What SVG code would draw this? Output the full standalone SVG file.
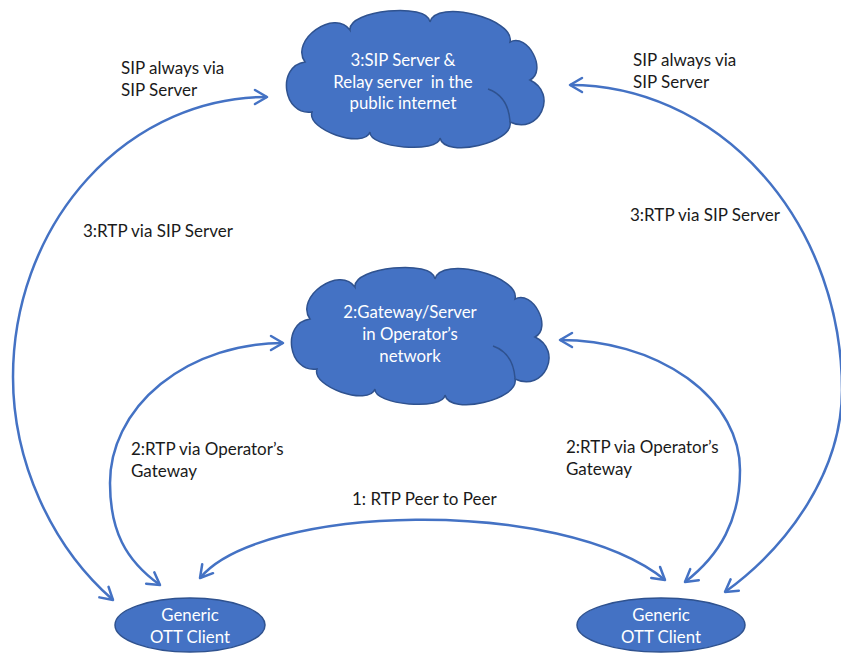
<svg xmlns="http://www.w3.org/2000/svg" xmlns:xlink="http://www.w3.org/1999/xlink" width="841" height="653" viewBox="0 0 841 653">
  <style>
    .shape { fill: #4472C4; stroke: #2F528F; stroke-width: 1.5; }
    .crease { fill: none; stroke: #2F528F; stroke-width: 1.5; }
    .in { font-family: Lato, "Liberation Sans", sans-serif; font-size: 16.8px; fill: #FFFFFF; text-anchor: middle; }
    .lbl { font-family: Lato, "Liberation Sans", sans-serif; font-size: 17px; fill: #1A1A1A; }
    .link { fill: none; stroke: #4472C4; stroke-width: 2.5; marker-start: url(#head); marker-end: url(#head); }
  </style>
  <defs>
    <!-- open V arrowhead, reused at both ends of every link -->
    <marker id="head" markerUnits="userSpaceOnUse" markerWidth="18" markerHeight="18" viewBox="0 0 18 18" refX="15" refY="9" orient="auto-start-reverse">
      <path d="M3,2 L15,9 L3,16" fill="none" stroke="#4472C4" stroke-width="2.5" stroke-linecap="round" stroke-linejoin="round"/>
    </marker>
    <!-- cloud outline built from outward humps -->
    <path id="cloud" d="M305,62
      C289.5,40.1 334.5,8.1 350,30
      C348,10.1 428,2.1 430,22
      C435.8,-1.3 515.8,18.7 510,42
      C527.7,32.7 547.7,70.7 530,80
      C558.8,93.8 538.8,135.8 510,122
      C514.7,142.8 444.7,158.8 440,138
      C438.6,153.9 368.6,147.9 370,132
      C363.9,149.6 305.9,129.6 312,112
      C283,116.1 276,66.1 305,62 Z"/>
    <path id="cloud-crease" d="M488,89 Q508,96 510,121"/>
  </defs>

  <g id="connectors">
    <path class="link" d="M267,97 A254 280 0 0 0 13,377 C13,460 50,545 113,600"/>
    <path class="link" d="M570,85 A272 305 0 0 1 842,390 C842,470 790,545 725,592"/>
    <path class="link" d="M283,343 A173 140 0 0 0 110,483 C110,530 125,560 160,585"/>
    <path class="link" d="M560,340 A180 130 0 0 1 740,470 C740,520 720,555 685,582"/>
    <path class="link" d="M200,578 C260,505 560,495 665,580"/>
  </g>

  <g id="labels">
    <text class="lbl" x="121" y="74">SIP always via</text>
    <text class="lbl" x="121" y="96">SIP Server</text>
    <text class="lbl" x="633" y="66">SIP always via</text>
    <text class="lbl" x="633" y="88">SIP Server</text>
    <text class="lbl" x="83" y="237">3:RTP via SIP Server</text>
    <text class="lbl" x="630" y="221">3:RTP via SIP Server</text>
    <text class="lbl" x="131" y="455">2:RTP via Operator’s</text>
    <text class="lbl" x="131" y="477">Gateway</text>
    <text class="lbl" x="566" y="453">2:RTP via Operator’s</text>
    <text class="lbl" x="566" y="475">Gateway</text>
    <text class="lbl" x="352" y="505">1: RTP Peer to Peer</text>
  </g>

  <g id="sip-server">
    <use xlink:href="#cloud" href="#cloud" class="shape"/>
    <use xlink:href="#cloud-crease" href="#cloud-crease" class="crease"/>
    <text class="in" x="403" y="66">3:SIP Server &amp;</text>
    <text class="in" x="403" y="88" xml:space="preserve">Relay server  in the</text>
    <text class="in" x="403" y="109">public internet</text>
  </g>

  <g id="operator-gateway">
    <use xlink:href="#cloud" href="#cloud" class="shape" transform="translate(5,257)"/>
    <use xlink:href="#cloud-crease" href="#cloud-crease" class="crease" transform="translate(5,257)"/>
    <text class="in" x="410" y="318">2:Gateway/Server</text>
    <text class="in" x="410" y="340">in Operator’s</text>
    <text class="in" x="410" y="362">network</text>
  </g>

  <g id="client-left">
    <ellipse class="shape" cx="190" cy="625" rx="75" ry="27"/>
    <text class="in" x="190" y="621">Generic</text>
    <text class="in" x="190" y="643">OTT Client</text>
  </g>

  <g id="client-right">
    <ellipse class="shape" cx="661" cy="625" rx="84" ry="27"/>
    <text class="in" x="661" y="621">Generic</text>
    <text class="in" x="661" y="643">OTT Client</text>
  </g>
</svg>
